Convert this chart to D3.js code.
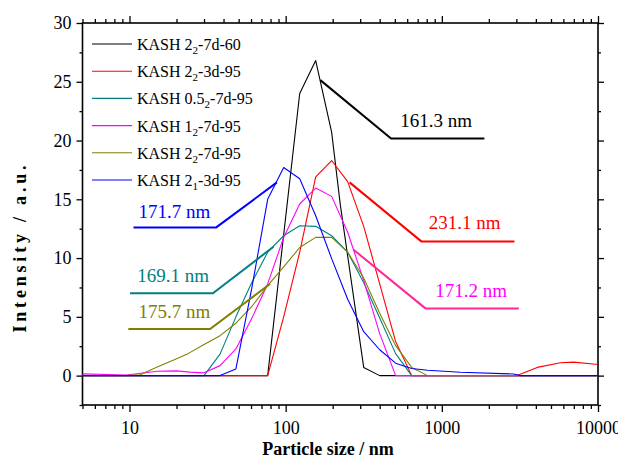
<!DOCTYPE html>
<html>
<head>
<meta charset="utf-8">
<script src="https://cdn.jsdelivr.net/npm/d3@7"></script>
<style>
  body { margin: 0; background: #fff; }
  text { font-family: "Liberation Serif", "Times New Roman", serif; }
</style>
</head>
<body>
<svg width="618" height="464"></svg>
<script>
// DLS size distributions (size in nm, intensity in a.u.)
const blackX = [5, 76.7, 123, 155.7, 197, 224, 316, 400, 10000];
const blackY = [0, 0, 24.0, 26.8, 20.7, 14.5, 0.7, 0, 0];

const redX = [5, 76.7, 97.1, 123, 155.7, 197, 249.5, 316, 400, 506, 641, 3035, 4080, 5755, 6970, 10000];
const redY = [0, 0, 5.0, 10.5, 16.9, 18.3, 16.5, 12.7, 7.8, 2.9, 0, 0, 0.7, 1.1, 1.15, 0.94];

const tealX = [5, 30, 38, 48, 60.6, 76.7, 97.1, 123, 155.7, 197, 249.5, 316, 400, 506, 641, 10000];
const tealY = [0, 0, 1.83, 5.0, 7.9, 10.5, 11.9, 12.75, 12.7, 11.9, 10.5, 7.9, 4.9, 1.87, 0, 0];

const magentaX = [5, 9.6, 15, 20, 24.4, 29.7, 38, 48, 60.6, 76.7, 97.1, 123, 155.7, 197, 249.5, 316, 400, 506, 10000];
const magentaY = [0.15, 0.05, 0.37, 0.4, 0.3, 0.23, 0.85, 2.27, 4.85, 7.8, 11.76, 14.6, 15.96, 15.25, 12.2, 8.1, 3.57, 0, 0];

const oliveX = [5, 9.24, 11.7, 14.8, 18.7, 23.7, 30, 38, 48, 60.6, 76.7, 97.1, 123, 155.7, 197, 249.5, 316, 400, 506, 641, 811, 10000];
const oliveY = [0, 0, 0.08, 0.7, 1.27, 1.87, 2.65, 3.4, 4.46, 5.86, 7.65, 9.25, 10.9, 11.76, 11.76, 10.5, 8.3, 5.3, 2.55, 0.7, 0, 0];

const blueX = [5, 38, 48, 60.6, 76.7, 97.1, 123, 155.7, 197, 249.5, 316, 400, 506, 641, 811, 1315, 2875, 3185, 10000];
const blueY = [0, 0, 0.57, 7.4, 15.0, 17.7, 16.75, 13.6, 9.95, 6.5, 3.74, 2.2, 1.06, 0.6, 0.45, 0.28, 0.14, 0, 0];

// legend names: prefix, subscript, suffix
const seriesNames = [
  ['KASH 2', '2', '-7d-60'],
  ['KASH 2', '2', '-3d-95'],
  ['KASH 0.5', '2', '-7d-95'],
  ['KASH 1', '2', '-7d-95'],
  ['KASH 2', '2', '-7d-95'],
  ['KASH 2', '1', '-3d-95']
];
const seriesColors = ['#000000', '#ff0000', '#008080', '#ff00ff', '#808000', '#0000ff'];

// peak labels and their leader lines (data coordinates)
const peakLabels = ['161.3 nm', '231.1 nm', '169.1 nm', '171.2 nm', '175.7 nm', '171.7 nm'];
const peakLabelPos = [[542, 21.13], [824, 12.48], [11.2, 8.0], [909, 6.66], [11.4, 4.88], [11.4, 13.44]];
const leaderLines = [
  [[166.7, 25.14], [473, 20.18], [1873, 20.18]],
  [[256.5, 16.44], [739, 11.42], [2917, 11.42]],
  [[83.6, 10.97], [34.2, 7.0], [10.08, 7.0]],
  [[272, 10.71], [785, 5.72], [3110, 5.72]],
  [[79.6, 7.82], [32.8, 3.97], [9.83, 3.97]],
  [[87.9, 16.44], [35.9, 12.61], [10.6, 12.61]]
];
const leaderColors = ['#000000', '#ff0000', '#008080', '#ff2896', '#808000', '#0000ff'];

const xMajor = [10, 100, 1000, 10000];
const yMajor = [0, 5, 10, 15, 20, 25, 30];

const svg = d3.select('svg');
const width = 618;
const height = 464;
const margin = { top: 23, right: 20, bottom: 59, left: 82.5 };
const innerWidth = width - margin.left - margin.right;
const innerHeight = height - margin.top - margin.bottom;

const g = svg.append('g').attr('transform', `translate(${margin.left},${margin.top})`);

const xScale = d3.scaleLog().domain([5, 10000]).range([0, innerWidth]);
const yScale = d3.scaleLinear().domain([-2.5, 30]).range([innerHeight, 0]);

// minor tick values
const xMinor = [];
[1, 10, 100, 1000].forEach(d => {
  for (let k = 2; k <= 9; k++) {
    const v = d * k;
    if (v >= 5 && v <= 10000) xMinor.push(v);
  }
});
const yMinor = d3.range(-2.5, 30, 5);

function styleAxis(sel) {
  sel.select('.domain').remove();
  sel.selectAll('line').attr('stroke', '#000').attr('stroke-width', 1.3);
  sel.selectAll('text').attr('font-size', 18).attr('fill', '#000')
    .style('font-family', '"Liberation Serif", "Times New Roman", serif');
}
// ticks only, no labels
function bareAxis(sel) {
  styleAxis(sel);
  sel.selectAll('text').remove();
}

// bottom axis
g.append('g').attr('transform', `translate(0,${innerHeight})`)
  .call(d3.axisBottom(xScale).tickValues(xMinor).tickSize(4))
  .call(bareAxis);
g.append('g').attr('transform', `translate(0,${innerHeight})`)
  .call(d3.axisBottom(xScale).tickValues(xMajor).tickSize(7).tickPadding(9).tickFormat(d3.format('d')))
  .call(styleAxis);
// top axis (mirror)
g.append('g')
  .call(d3.axisTop(xScale).tickValues(xMinor).tickSize(4))
  .call(bareAxis);
g.append('g')
  .call(d3.axisTop(xScale).tickValues(xMajor).tickSize(7))
  .call(bareAxis);

// left axis
g.append('g')
  .call(d3.axisLeft(yScale).tickValues(yMinor).tickSize(3))
  .call(bareAxis);
g.append('g')
  .call(d3.axisLeft(yScale).tickValues(yMajor).tickSize(6).tickPadding(5))
  .call(styleAxis);
// right axis (mirror)
g.append('g').attr('transform', `translate(${innerWidth},0)`)
  .call(d3.axisRight(yScale).tickValues(yMinor).tickSize(3))
  .call(bareAxis);
g.append('g').attr('transform', `translate(${innerWidth},0)`)
  .call(d3.axisRight(yScale).tickValues(yMajor).tickSize(6))
  .call(bareAxis);

// frame
g.append('rect')
  .attr('width', innerWidth)
  .attr('height', innerHeight)
  .attr('fill', 'none')
  .attr('stroke', '#000')
  .attr('stroke-width', 1.6);

// curves
const seriesX = [blackX, redX, tealX, magentaX, oliveX, blueX];
const seriesY = [blackY, redY, tealY, magentaY, oliveY, blueY];
const series = seriesX.map((xs, i) => xs.map((x, j) => [x, seriesY[i][j]]));

const line = d3.line()
  .x(d => xScale(d[0]))
  .y(d => yScale(d[1]));

g.selectAll('.curve')
  .data(series)
  .join('path')
  .attr('class', 'curve')
  .attr('d', line)
  .attr('fill', 'none')
  .attr('stroke', (d, i) => seriesColors[i])
  .attr('stroke-width', 1.1)
  .attr('stroke-linejoin', 'round');

// leader lines and peak labels
g.selectAll('.leader')
  .data(leaderLines)
  .join('path')
  .attr('class', 'leader')
  .attr('d', line)
  .attr('fill', 'none')
  .attr('stroke', (d, i) => leaderColors[i])
  .attr('stroke-width', 2);

g.selectAll('.peak-label')
  .data(peakLabels)
  .join('text')
  .attr('class', 'peak-label')
  .attr('x', (d, i) => xScale(peakLabelPos[i][0]))
  .attr('y', (d, i) => yScale(peakLabelPos[i][1]))
  .attr('font-size', 19)
  .attr('fill', (d, i) => seriesColors[i])
  .text(d => d);

// legend
const legend = svg.append('g');
const legendRows = legend.selectAll('g')
  .data(seriesNames)
  .join('g')
  .attr('transform', (d, i) => `translate(92,${44 + i * 27.2})`);

legendRows.append('line')
  .attr('x1', 0).attr('x2', 40)
  .attr('stroke', (d, i) => seriesColors[i])
  .attr('stroke-width', 1.1);

const legendText = legendRows.append('text')
  .attr('x', 45)
  .attr('y', 6)
  .attr('font-size', 16)
  .attr('fill', '#000');
legendText.append('tspan').text(d => d[0]);
legendText.append('tspan').attr('font-size', 11).attr('dy', 4).text(d => d[1]);
legendText.append('tspan').attr('dy', -4).text(d => d[2]);

// axis titles
svg.append('text')
  .attr('x', 328)
  .attr('y', 455)
  .attr('text-anchor', 'middle')
  .attr('font-size', 18)
  .attr('font-weight', 'bold')
  .text('Particle size / nm');

svg.append('text')
  .attr('transform', 'translate(26,249) rotate(-90)')
  .attr('text-anchor', 'middle')
  .attr('font-size', 18)
  .attr('font-weight', 'bold')
  .attr('textLength', 167)
  .attr('lengthAdjust', 'spacing')
  .text('Intensity / a.u.');
</script>
</body>
</html>
